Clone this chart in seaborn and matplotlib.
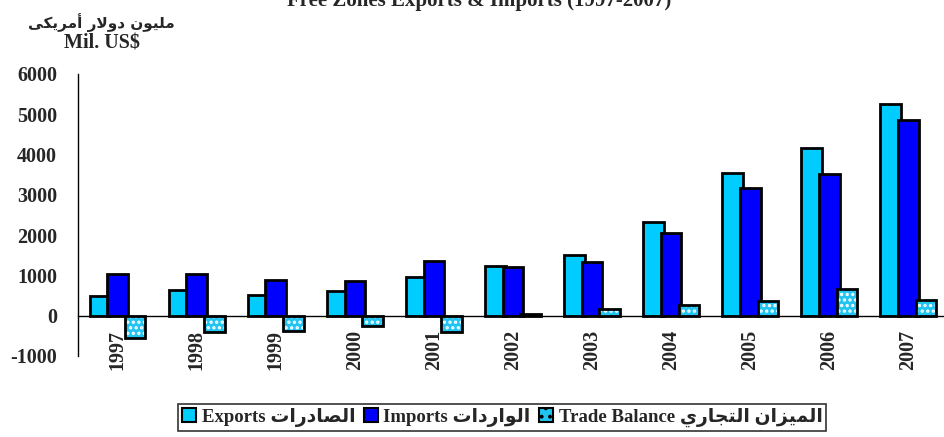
import matplotlib
matplotlib.use("Agg")
import matplotlib.pyplot as plt
from matplotlib.patches import Rectangle, Patch
from matplotlib.ticker import FixedLocator
import seaborn as sns
import pandas as pd

# ---------------- data ----------------
years = ["1997", "1998", "1999", "2000", "2001", "2002", "2003", "2004", "2005", "2006", "2007"]
exports = [480, 630, 505, 605, 950, 1240, 1495, 2315, 3540, 4165, 5255]
imports = [1040, 1035, 895, 850, 1365, 1200, 1330, 2050, 3175, 3505, 4860]
balance = [-560, -405, -390, -245, -415, 40, 165, 265, 365, 660, 395]
yticks = [-1000, 0, 1000, 2000, 3000, 4000, 5000, 6000]

title_text = "Free Zones Exports & Imports (1997-2007)"
unit_ar = "مليون دولار أمريكى"
unit_en = "Mil. US$"
series_en = ["Exports", "Imports", "Trade Balance"]
series_ar = ["الصادرات", "الواردات", "الميزان التجاري"]

# ---------------- minimal Arabic shaping (matplotlib has no complex text layout) ----------------
FORMS = {  # isolated, final, initial, medial
    'ا': ('\uFE8D', '\uFE8E', None, None),
    'أ': ('\uFE83', '\uFE84', None, None),
    'ل': ('\uFEDD', '\uFEDE', '\uFEDF', '\uFEE0'),
    'م': ('\uFEE1', '\uFEE2', '\uFEE3', '\uFEE4'),
    'ي': ('\uFEF1', '\uFEF2', '\uFEF3', '\uFEF4'),
    'و': ('\uFEED', '\uFEEE', None, None),
    'ن': ('\uFEE5', '\uFEE6', '\uFEE7', '\uFEE8'),
    'د': ('\uFEA9', '\uFEAA', None, None),
    'ر': ('\uFEAD', '\uFEAE', None, None),
    'ك': ('\uFED9', '\uFEDA', '\uFEDB', '\uFEDC'),
    'ى': ('\uFEEF', '\uFEF0', '\uFBE8', '\uFBE9'),
    'ص': ('\uFEB9', '\uFEBA', '\uFEBB', '\uFEBC'),
    'ت': ('\uFE95', '\uFE96', '\uFE97', '\uFE98'),
    'ز': ('\uFEAF', '\uFEB0', None, None),
    'ج': ('\uFE9D', '\uFE9E', '\uFE9F', '\uFEA0'),
}
LAM_ALEF = {'ا': ('\uFEFB', '\uFEFC', None, None), 'أ': ('\uFEF7', '\uFEF8', None, None)}


def shape_word(w):
    units = []
    i = 0
    while i < len(w):
        c = w[i]
        if c == 'ل' and i + 1 < len(w) and w[i + 1] in LAM_ALEF:
            units.append(LAM_ALEF[w[i + 1]])
            i += 2
        else:
            units.append(FORMS.get(c, (c, c, None, None)))
            i += 1
    out = []
    for k, f in enumerate(units):
        pj = k > 0 and units[k - 1][2] is not None
        nj = k + 1 < len(units) and f[2] is not None
        if pj and nj:
            out.append(f[3])
        elif pj:
            out.append(f[1])
        elif nj:
            out.append(f[2])
        else:
            out.append(f[0])
    return ''.join(reversed(out))


def ar(s):
    return ' '.join(shape_word(w) for w in reversed(s.split()))


# ---------------- styling ----------------
sns.set_style("white")
plt.rcParams['font.family'] = ['Liberation Serif', 'DejaVu Sans']
plt.rcParams['hatch.linewidth'] = 1.6

c_exp, c_imp, c_bal = "#00CCFF", "#0000FF", "#22C4F2"

df = pd.DataFrame({
    "Year": years * 3,
    "Value": exports + imports + balance,
    "Series": [series_en[0]] * len(years) + [series_en[1]] * len(years) + [series_en[2]] * len(years),
})

fig = plt.figure(figsize=(9.44, 4.37), dpi=100)
ax = fig.add_axes([0.0826, 0.1854, 0.9216, 0.6453])

sns.barplot(data=df, x="Year", y="Value", hue="Series", hue_order=series_en,
            palette=[c_exp, c_imp, c_bal], saturation=1, width=0.78,
            edgecolor="black", linewidth=2.0, legend=False, ax=ax, errorbar=None)

# slight overlap of the bars inside each group (like the original)
for ci, cont in enumerate(ax.containers):
    for p in cont.patches:
        w = p.get_width()
        cx = p.get_x() + w / 2
        k = round(cx)
        ncx = k + (cx - k) * 0.86
        p.set_x(ncx - w / 2)
        if ci == 2:
            p.set_edgecolor("white")
            p.set_hatch("...")
            p.set_linewidth(0)
            ax.add_patch(Rectangle((p.get_x(), p.get_y()), w, p.get_height(), fill=False,
                                   edgecolor="black", linewidth=2.0, zorder=p.get_zorder() + 0.1))

# spines first (set_position resets the ticks)
for s in ["top", "right"]:
    ax.spines[s].set_visible(False)
ax.spines["bottom"].set_position(("data", 0))
ax.spines["bottom"].set_color("black")
ax.spines["left"].set_color("black")
ax.spines["bottom"].set_linewidth(1.0)
ax.spines["left"].set_linewidth(1.0)

ax.set_ylim(-1000, 6000)
ax.set_xlim(-0.5, len(years) - 0.5)
ax.set_yticks(yticks)
ax.set_yticklabels([str(v) for v in yticks], fontsize=14.5, fontweight="bold")
ax.set_xticks(range(len(years)))
ax.set_xticklabels(years, rotation=90, fontsize=14.5, fontweight="bold")
ax.xaxis.set_minor_locator(FixedLocator([k + 0.5 for k in range(len(years) - 1)]))
ax.tick_params(axis="x", which="major", length=0, pad=10)
ax.tick_params(axis="x", which="minor", length=6, width=1, direction="out", color="#333333")
ax.tick_params(axis="y", which="major", length=6, width=1, direction="out", pad=9, color="#333333")
ax.set_xlabel("")
ax.set_ylabel("")

# titles / unit labels
fig.text(0.508, 1 - 6 / 437, title_text, ha="center", va="baseline", fontsize=15, fontweight="bold")
fig.text(101 / 944, 1 - 23 / 437, ar(unit_ar), ha="center", va="center", fontsize=11,
         fontweight="bold", family=["DejaVu Sans"])
fig.text(102 / 944, 1 - 43 / 437, unit_en, ha="center", va="center", fontsize=14.5, fontweight="bold")

# legend
handles = [Patch(facecolor=c_exp, edgecolor="black", linewidth=1.5),
           Patch(facecolor=c_imp, edgecolor="black", linewidth=1.5),
           Patch(facecolor=c_bal, edgecolor="white", hatch="..", linewidth=1.5)]
labels = [f"{e} {ar(a)}" for e, a in zip(series_en, series_ar)]
leg = fig.legend(handles, labels, loc="upper center", bbox_to_anchor=(0.532, 0.0755), ncol=3,
                 frameon=True, fancybox=False, handlelength=0.75, handleheight=0.75,
                 handletextpad=0.3, columnspacing=0.45, borderpad=0.2, borderaxespad=0,
                 prop={"family": ["Liberation Serif", "DejaVu Sans"], "weight": "bold", "size": 13.5})
leg.get_frame().set_edgecolor("black")
leg.get_frame().set_linewidth(1.2)
for h in leg.legend_handles[:3]:
    h.set_edgecolor("black")
leg.legend_handles[2].set_hatch("..")

fig.savefig("out.png", dpi=100, facecolor="white")
